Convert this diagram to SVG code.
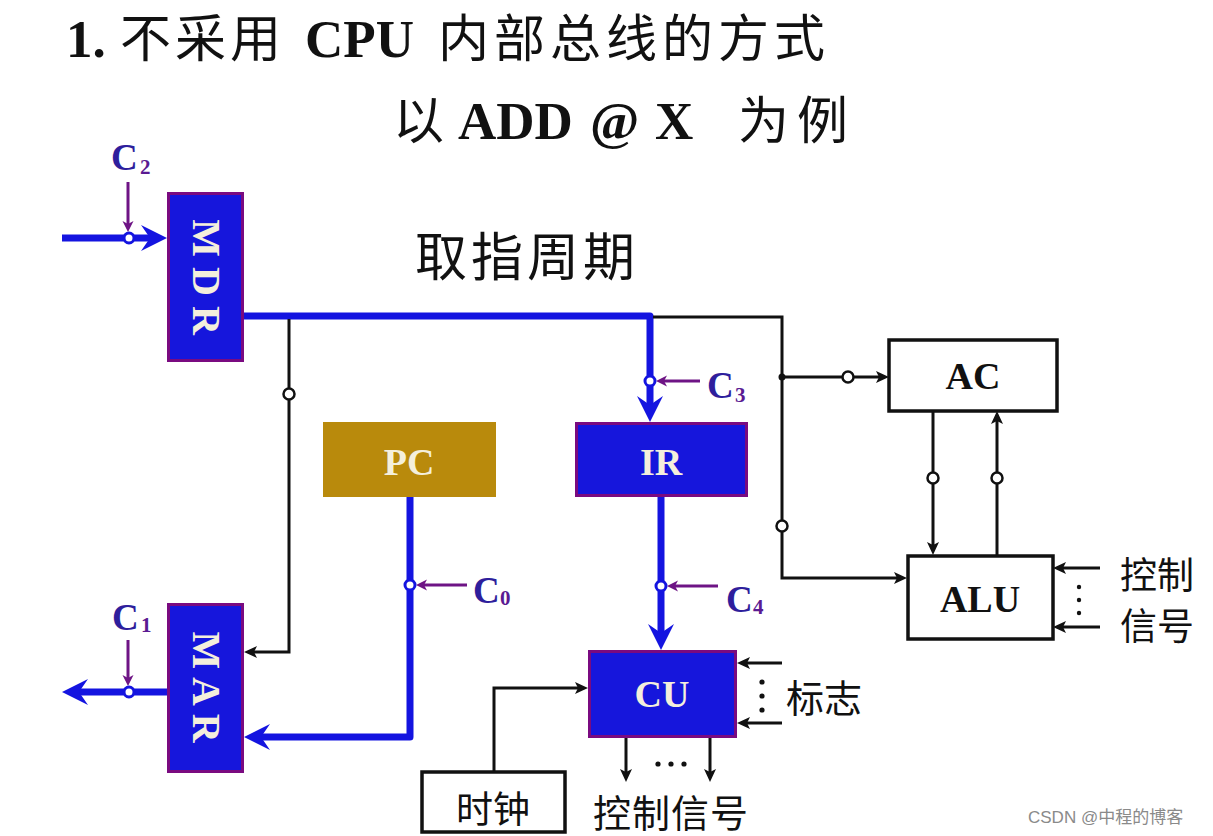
<svg xmlns="http://www.w3.org/2000/svg" width="1213" height="836" viewBox="0 0 1213 836">
<style>
.cjk{font-family:"Noto Sans CJK SC",sans-serif;fill:#111}
.lat{font-family:"Liberation Serif",serif;font-weight:bold;fill:#111}
.reg{fill:#1616dc;stroke:#7a0a80;stroke-width:3}
.regt{font-family:"Liberation Serif",serif;font-weight:bold;font-size:40px;fill:#f4efdc}
.box{fill:#fff;stroke:#111;stroke-width:3.5}
.boxt{font-family:"Liberation Serif",serif;font-weight:bold;font-size:38px;fill:#111}
.blue{fill:none;stroke:#1414e0;stroke-width:7;stroke-linejoin:round}
.blk{fill:none;stroke:#111;stroke-width:3}
.pur{fill:none;stroke:#6e1485;stroke-width:3}
.cb{fill:#fff;stroke:#1414e0;stroke-width:3}
.ck{fill:#fff;stroke:#111;stroke-width:2.5}
.cl{font-family:"Liberation Serif",serif;font-weight:bold;font-size:37px;fill:#2e1e9c}
.cs{font-family:"Liberation Serif",serif;font-weight:bold;font-size:21px;fill:#5a1a92}
</style>
<defs>
<marker id="ab" markerUnits="userSpaceOnUse" markerWidth="30" markerHeight="30" refX="12" refY="13" orient="auto"><path d="M0,0 L26,13 L0,26 L9,13 Z" fill="#1414e0"/></marker>
<marker id="ak" markerUnits="userSpaceOnUse" markerWidth="16" markerHeight="16" refX="5" refY="6" orient="auto"><path d="M0,0 L13,6 L0,12 L3,6 Z" fill="#111"/></marker>
<marker id="ap" markerUnits="userSpaceOnUse" markerWidth="16" markerHeight="16" refX="3" refY="5.5" orient="auto"><path d="M0,0 L11,5.5 L0,11 L3,5.5 Z" fill="#6e1485"/></marker>
</defs>
<rect width="1213" height="836" fill="#fff"/>

<g id="title">
<text y="57"><tspan class="lat" x="66" font-size="53">1.</tspan><tspan class="cjk" x="120" font-size="51" letter-spacing="4">不采用</tspan><tspan class="lat" x="305" font-size="53">CPU</tspan><tspan class="cjk" x="438" font-size="51" letter-spacing="5">内部总线的方式</tspan></text>
<text y="139"><tspan class="cjk" x="393" font-size="51">以</tspan><tspan class="lat" x="458" font-size="53">ADD</tspan><tspan class="lat" x="590" font-size="53">@</tspan><tspan class="lat" x="655" font-size="53">X</tspan><tspan class="cjk" x="738" font-size="51" letter-spacing="8">为例</tspan></text>
<text class="cjk" x="415" y="276" font-size="52" letter-spacing="4">取指周期</text>
</g>

<g id="connectors">
<path class="blue" d="M62,238 H153" marker-end="url(#ab)"/>
<path class="blue" d="M167,692 H76" marker-end="url(#ab)"/>
<path class="blue" d="M244,316 H650 V408" marker-end="url(#ab)"/>
<path class="blue" d="M661,497 V636" marker-end="url(#ab)"/>
<path class="blue" d="M410,497 V737 H258" marker-end="url(#ab)"/>
<path class="blk" d="M653,317 H782 V578 H899" marker-end="url(#ak)"/>
<path class="blk" d="M782,377 H881" marker-end="url(#ak)"/>
<path class="blk" d="M289,319 V652 H252" marker-end="url(#ak)"/>
<path class="blk" d="M933,412 V547" marker-end="url(#ak)"/>
<path class="blk" d="M997,555 V419" marker-end="url(#ak)"/>
<path class="blk" d="M1100,568 H1061" marker-end="url(#ak)"/>
<path class="blk" d="M1100,627 H1061" marker-end="url(#ak)"/>
<path class="blk" d="M782,663 H745" marker-end="url(#ak)"/>
<path class="blk" d="M782,723 H745" marker-end="url(#ak)"/>
<path class="blk" d="M626,738 V774" marker-end="url(#ak)"/>
<path class="blk" d="M710,738 V774" marker-end="url(#ak)"/>
<path class="blk" d="M494,772 V688 H580" marker-end="url(#ak)"/>
<circle cx="782" cy="377" r="3.5" fill="#111"/>
<path class="pur" d="M128,182 V224" marker-end="url(#ap)"/>
<path class="pur" d="M128,640 V678" marker-end="url(#ap)"/>
<path class="pur" d="M467,585 H424" marker-end="url(#ap)"/>
<path class="pur" d="M700,381 H664" marker-end="url(#ap)"/>
<path class="pur" d="M718,586 H675" marker-end="url(#ap)"/>
<circle class="cb" cx="129" cy="238" r="5"/>
<circle class="cb" cx="129" cy="692" r="5"/>
<circle class="cb" cx="410" cy="585" r="5"/>
<circle class="cb" cx="650" cy="381" r="5" stroke="#6e1485"/>
<circle class="cb" cx="661" cy="586" r="5"/>
<circle class="ck" cx="289" cy="394" r="5.5"/>
<circle class="ck" cx="848" cy="377" r="5.5"/>
<circle class="ck" cx="782" cy="526" r="5.5"/>
<circle class="ck" cx="933" cy="478" r="5.5"/>
<circle class="ck" cx="997" cy="478" r="5.5"/>
<g fill="#111">
<circle cx="1079" cy="587" r="2.2"/><circle cx="1079" cy="600" r="2.2"/><circle cx="1079" cy="613" r="2.2"/>
<circle cx="762" cy="682" r="2.6"/><circle cx="762" cy="696" r="2.6"/><circle cx="762" cy="710" r="2.6"/>
<circle cx="658" cy="764" r="2.6"/><circle cx="671" cy="764" r="2.6"/><circle cx="684" cy="764" r="2.6"/>
</g>
<text x="111" y="170"><tspan class="cl">C</tspan><tspan class="cs" x="140" y="174">2</tspan></text>
<text x="112" y="630"><tspan class="cl">C</tspan><tspan class="cs" x="141" y="632">1</tspan></text>
<text x="473" y="603"><tspan class="cl">C</tspan><tspan class="cs" x="500" y="605">0</tspan></text>
<text x="707" y="398"><tspan class="cl">C</tspan><tspan class="cs" x="735" y="402">3</tspan></text>
<text x="726" y="612"><tspan class="cl">C</tspan><tspan class="cs" x="753" y="614">4</tspan></text>
</g>

<g id="MDR">
<rect class="reg" x="168.5" y="193.5" width="74" height="167"/>
<text class="regt" x="0" y="13" text-anchor="middle" transform="translate(205.5,277) rotate(90)">M D R</text>
</g>
<g id="MAR">
<rect class="reg" x="168.5" y="604.5" width="74" height="167"/>
<text class="regt" x="0" y="13" text-anchor="middle" transform="translate(205.5,687) rotate(90)">M A R</text>
</g>
<g id="PC">
<rect x="323" y="422" width="173" height="75" fill="#b98a0c"/>
<text class="regt" x="409" y="475" text-anchor="middle" style="font-size:38px">PC</text>
</g>
<g id="IR">
<rect class="reg" x="576.5" y="423.5" width="170" height="72"/>
<text class="regt" x="661" y="475" text-anchor="middle" style="font-size:38px">IR</text>
</g>
<g id="CU">
<rect class="reg" x="589.5" y="651.5" width="146" height="85"/>
<text class="regt" x="662" y="707" text-anchor="middle" style="font-size:38px">CU</text>
</g>
<g id="AC">
<rect class="box" x="889" y="340" width="168" height="71"/>
<text class="boxt" x="973" y="389" text-anchor="middle">AC</text>
</g>
<g id="ALU">
<rect class="box" x="908" y="556" width="145" height="83"/>
<text class="boxt" x="980" y="612" text-anchor="middle">ALU</text>
</g>
<g id="clock">
<rect class="box" x="422" y="772" width="143" height="60"/>
<text class="cjk" x="493" y="823" font-size="37" text-anchor="middle">时钟</text>
</g>
<g id="labels">
<text class="cjk" x="1120" y="589" font-size="37">控制</text>
<text class="cjk" x="1120" y="640" font-size="37">信号</text>
<text class="cjk" x="786" y="712" font-size="38">标志</text>
<text class="cjk" x="593" y="827" font-size="38" letter-spacing="1">控制信号</text>
<text x="1028" y="823" font-size="17" fill="#8a8a8a" font-family="Liberation Sans, Noto Sans CJK SC, sans-serif">CSDN @中程的博客</text>
</g>
</svg>
